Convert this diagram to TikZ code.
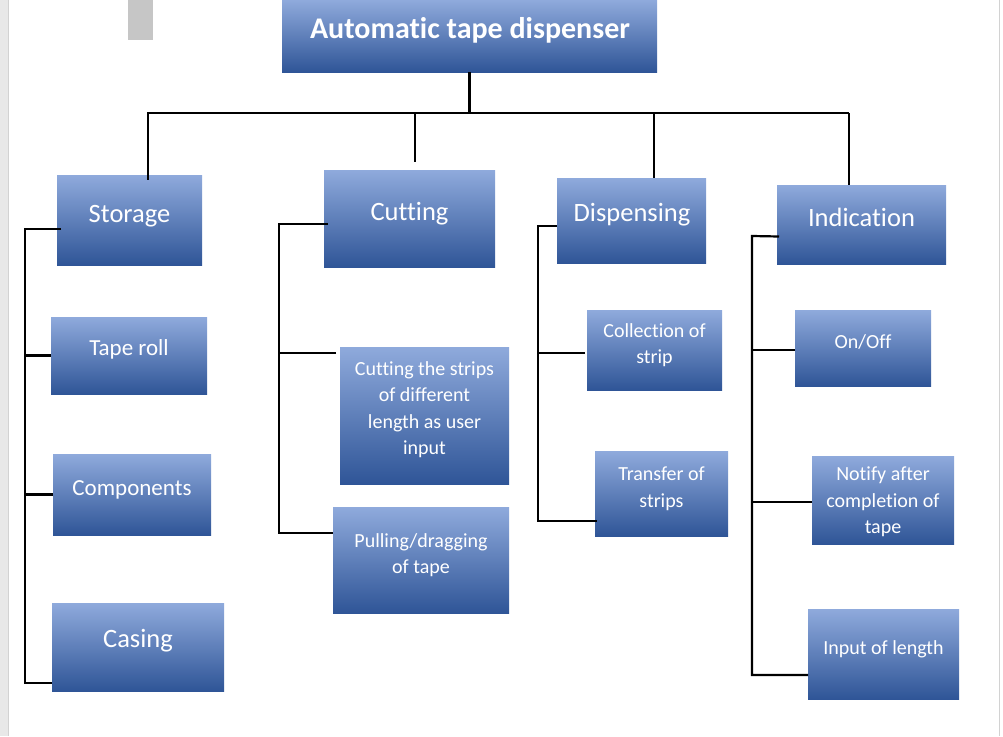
\documentclass[tikz,border=0pt]{standalone}
\usepackage{fontspec}
\setmainfont[Ligatures={NoCommon}]{Carlito}
\usetikzlibrary{calc}

\definecolor{boxtop}{HTML}{8FAADC}
\definecolor{boxmid}{HTML}{4472C4}
\definecolor{boxbot}{HTML}{2F5597}

\begin{document}
\begin{tikzpicture}[x=1pt, y=-1pt,
  box/.style={rectangle, draw=none, inner sep=0pt, outer sep=0pt,
    top color=boxtop, middle color=boxmid, bottom color=boxbot},
  txt/.style={text=white, inner sep=0pt, align=center},
  head/.style={txt, font=\fontsize{26.5}{32}\selectfont},
  item/.style={txt, font=\fontsize{23}{28}\selectfont},
  small/.style={txt, font=\fontsize{20}{26.5}\selectfont},
  tree/.style={line width=2.8pt, black},
  bracket/.style={line width=2.2pt, black}]

\useasboundingbox (0,0) rectangle (1003,736);

% Page edges
\fill[gray!18] (0,0) rectangle (8,736);
\draw[gray!35, line width=1pt] (8.5,0) -- (8.5,736);
\draw[gray!35, line width=1pt] (999,0) -- (999,736);
\fill[gray!45] (128,0) rectangle (153,40);

% Title
\node[box, minimum width=375, minimum height=72] (title) at (469.5,36) {};
\node[txt, anchor=base, font=\bfseries\fontsize{30}{36}\selectfont] (title-t) at (470,38) {Automatic tape dispenser};

% Storage column
\node[box, minimum width=145, minimum height=90] (storage) at (129.5,220) {};
\node[box, minimum width=156, minimum height=77] (taperoll) at (129,355.5) {};
\node[box, minimum width=158, minimum height=81] (components) at (132,494.5) {};
\node[box, minimum width=172, minimum height=88] (casing) at (138,647) {};
\node[head, anchor=base] (storage-t) at (129.5,222) {Storage};
\node[item, anchor=base] (taperoll-t) at (129,355.7) {Tape roll};
\node[item, anchor=base] (components-t) at (132,495) {Components};
\node[head, anchor=base] (casing-t) at (138,647.7) {Casing};

% Cutting column
\node[box, minimum width=171, minimum height=97] (cutting) at (409.5,218.5) {};
\node[box, minimum width=169, minimum height=137] (strips) at (424.5,415.5) {};
\node[box, minimum width=176, minimum height=106] (pulling) at (421,560) {};
\node[head, anchor=base] (cutting-t) at (409.5,220) {Cutting};
\node[small] (strips-t) at (424.5,409.7) {Cutting the strips\\of different\\length as user\\input};
\node[small] (pulling-t) at (421,555.3) {Pulling/dragging\\of tape};

% Dispensing column
\node[box, minimum width=149, minimum height=85] (dispensing) at (631.5,220.5) {};
\node[box, minimum width=135, minimum height=80] (collection) at (654.5,350) {};
\node[box, minimum width=133, minimum height=85] (transfer) at (661.5,493.5) {};
\node[head, anchor=base] (dispensing-t) at (632,221.7) {Dispensing};
\node[small] (collection-t) at (654.5,345) {Collection of\\strip};
\node[small] (transfer-t) at (661.5,488.8) {Transfer of\\strips};

% Indication column
\node[box, minimum width=169, minimum height=79] (indication) at (861.5,224.5) {};
\node[box, minimum width=136, minimum height=76] (onoff) at (863,348) {};
\node[box, minimum width=142, minimum height=88] (notify) at (883,500) {};
\node[box, minimum width=151, minimum height=90] (input) at (883.5,654) {};
\node[head, anchor=base] (indication-t) at (861.5,226) {Indication};
\node[small, anchor=base] (onoff-t) at (863,348.2) {On/Off};
\node[small] (notify-t) at (883,501.8) {Notify after\\completion of\\tape};
\node[small, anchor=base] (input-t) at (883.5,654) {Input of length};

% Tree from the title
\coordinate (bus-l) at (147,113);
\coordinate (bus-r) at (849,113);
\coordinate (b1) at (148,113);
\coordinate (b2) at (415,113);
\coordinate (b3) at (654,113);
\draw[tree] (title.south) -- (title.south |- bus-l);
\draw[tree] (bus-l) -- (bus-r);
\draw[tree] (b1) -- ($(b1 |- storage.north)+(0,5)$);
\draw[tree] (b2) -- ($(b2 |- cutting.north)+(0,-8)$);
\draw[tree] (b3) -- (b3 |- dispensing.north);
\draw[tree] (bus-r) -- (bus-r |- indication.north);

% Storage bracket
\coordinate (v1) at (25,229);
\draw[bracket] ($(storage.west)+(4,9)$) -- (v1) |- ($(casing.west)+(0,36)$);
\draw[bracket] (taperoll.west) -- (taperoll.west -| v1);
\draw[bracket] (components.west) -- (components.west -| v1);

% Cutting bracket
\coordinate (v2) at (279,224);
\coordinate (t2) at ($(strips.north west)+(-4,6)$);
\draw[bracket] ($(cutting.west)+(4,5.5)$) -- (v2) |- ($(pulling.west)+(0,-27)$);
\draw[bracket] (t2) -- (t2 -| v2);

% Dispensing bracket
\coordinate (v3) at (538,226);
\coordinate (t3) at ($(collection.west)+(-2,3)$);
\draw[bracket] ($(dispensing.west)+(0,5.5)$) -- (v3) |- ($(transfer.west)+(2,27.5)$);
\draw[bracket] (t3) -- (t3 -| v3);

% Indication bracket
\coordinate (v4) at (752,236);
\coordinate (t4a) at ($(onoff.west)+(0,2)$);
\coordinate (t4b) at ($(notify.west)+(0,2)$);
\draw[bracket] ($(indication.west)+(2,12)$) -- (v4) |- ($(input.west)+(0,21)$);
\draw[bracket] (t4a) -- (t4a -| v4);
\draw[bracket] (t4b) -- (t4b -| v4);

\end{tikzpicture}
\end{document}
